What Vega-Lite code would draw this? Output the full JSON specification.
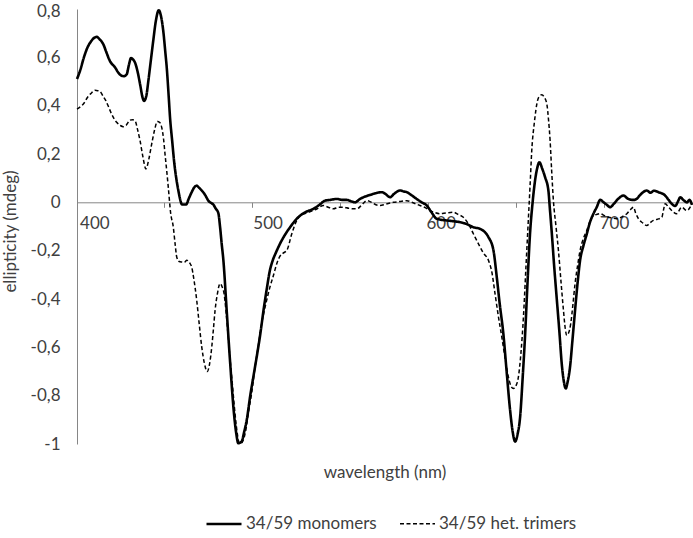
{
"$schema": "https://vega.github.io/schema/vega-lite/v6.json",
"width": 615, "height": 435,
"autosize": {"type": "none"},
"padding": {"left": 77, "top": 9, "right": 1, "bottom": 94},
"background": "white",
"config": {"view": {"stroke": null}, "font": "Lato"},
"data": {"values": [
{"s":"34/59 monomers","wl":390,"v":0.51},{"s":"34/59 monomers","wl":392,"v":0.55},{"s":"34/59 monomers","wl":394,"v":0.6},{"s":"34/59 monomers","wl":396,"v":0.64},{"s":"34/59 monomers","wl":398,"v":0.665},{"s":"34/59 monomers","wl":401.4,"v":0.685},{"s":"34/59 monomers","wl":403,"v":0.675},{"s":"34/59 monomers","wl":405.2,"v":0.654},{"s":"34/59 monomers","wl":407,"v":0.62},{"s":"34/59 monomers","wl":409,"v":0.585},{"s":"34/59 monomers","wl":412,"v":0.558},{"s":"34/59 monomers","wl":414,"v":0.535},{"s":"34/59 monomers","wl":415.8,"v":0.524},{"s":"34/59 monomers","wl":417,"v":0.522},{"s":"34/59 monomers","wl":418.7,"v":0.53},{"s":"34/59 monomers","wl":420,"v":0.57},{"s":"34/59 monomers","wl":421.2,"v":0.597},{"s":"34/59 monomers","wl":422.5,"v":0.59},{"s":"34/59 monomers","wl":423.5,"v":0.578},{"s":"34/59 monomers","wl":425,"v":0.54},{"s":"34/59 monomers","wl":426.4,"v":0.489},{"s":"34/59 monomers","wl":428,"v":0.43},{"s":"34/59 monomers","wl":428.7,"v":0.42},{"s":"34/59 monomers","wl":430,"v":0.44},{"s":"34/59 monomers","wl":431.2,"v":0.503},{"s":"34/59 monomers","wl":432.5,"v":0.58},{"s":"34/59 monomers","wl":434,"v":0.668},{"s":"34/59 monomers","wl":435.5,"v":0.75},{"s":"34/59 monomers","wl":437.2,"v":0.795},{"s":"34/59 monomers","wl":438.5,"v":0.77},{"s":"34/59 monomers","wl":439.8,"v":0.709},{"s":"34/59 monomers","wl":441,"v":0.62},{"s":"34/59 monomers","wl":441.8,"v":0.558},{"s":"34/59 monomers","wl":443,"v":0.43},{"s":"34/59 monomers","wl":443.7,"v":0.351},{"s":"34/59 monomers","wl":445,"v":0.25},{"s":"34/59 monomers","wl":446,"v":0.173},{"s":"34/59 monomers","wl":447.5,"v":0.09},{"s":"34/59 monomers","wl":448.5,"v":0.049},{"s":"34/59 monomers","wl":450,"v":0.0},{"s":"34/59 monomers","wl":450.5,"v":-0.009},{"s":"34/59 monomers","wl":453,"v":-0.009},{"s":"34/59 monomers","wl":454.5,"v":0.015},{"s":"34/59 monomers","wl":456.2,"v":0.042},{"s":"34/59 monomers","wl":457.5,"v":0.06},{"s":"34/59 monomers","wl":459.1,"v":0.069},{"s":"34/59 monomers","wl":460.5,"v":0.06},{"s":"34/59 monomers","wl":462,"v":0.049},{"s":"34/59 monomers","wl":464,"v":0.03},{"s":"34/59 monomers","wl":465.8,"v":0.007},{"s":"34/59 monomers","wl":467.5,"v":-0.003},{"s":"34/59 monomers","wl":468.7,"v":-0.009},{"s":"34/59 monomers","wl":470,"v":-0.025},{"s":"34/59 monomers","wl":471.6,"v":-0.045},{"s":"34/59 monomers","wl":472.6,"v":-0.103},{"s":"34/59 monomers","wl":473.5,"v":-0.17},{"s":"34/59 monomers","wl":474.5,"v":-0.24},{"s":"34/59 monomers","wl":476.4,"v":-0.447},{"s":"34/59 monomers","wl":478.3,"v":-0.653},{"s":"34/59 monomers","wl":480.6,"v":-0.873},{"s":"34/59 monomers","wl":482,"v":-0.96},{"s":"34/59 monomers","wl":483.1,"v":-0.997},{"s":"34/59 monomers","wl":485,"v":-0.99},{"s":"34/59 monomers","wl":486.5,"v":-0.95},{"s":"34/59 monomers","wl":488,"v":-0.9},{"s":"34/59 monomers","wl":490,"v":-0.8},{"s":"34/59 monomers","wl":491.8,"v":-0.722},{"s":"34/59 monomers","wl":495.7,"v":-0.55},{"s":"34/59 monomers","wl":498,"v":-0.43},{"s":"34/59 monomers","wl":499.5,"v":-0.36},{"s":"34/59 monomers","wl":501.4,"v":-0.28},{"s":"34/59 monomers","wl":503,"v":-0.24},{"s":"34/59 monomers","wl":505,"v":-0.205},{"s":"34/59 monomers","wl":507.2,"v":-0.171},{"s":"34/59 monomers","wl":510,"v":-0.135},{"s":"34/59 monomers","wl":513,"v":-0.103},{"s":"34/59 monomers","wl":516,"v":-0.075},{"s":"34/59 monomers","wl":518.8,"v":-0.055},{"s":"34/59 monomers","wl":522,"v":-0.04},{"s":"34/59 monomers","wl":526.4,"v":-0.027},{"s":"34/59 monomers","wl":530,"v":-0.01},{"s":"34/59 monomers","wl":533.2,"v":0.007},{"s":"34/59 monomers","wl":536,"v":0.01},{"s":"34/59 monomers","wl":540,"v":0.014},{"s":"34/59 monomers","wl":543,"v":0.01},{"s":"34/59 monomers","wl":545.7,"v":0.01},{"s":"34/59 monomers","wl":548,"v":0.005},{"s":"34/59 monomers","wl":550.5,"v":0.0},{"s":"34/59 monomers","wl":553,"v":0.012},{"s":"34/59 monomers","wl":555.3,"v":0.021},{"s":"34/59 monomers","wl":558,"v":0.028},{"s":"34/59 monomers","wl":561.1,"v":0.035},{"s":"34/59 monomers","wl":563.5,"v":0.04},{"s":"34/59 monomers","wl":566,"v":0.042},{"s":"34/59 monomers","wl":568,"v":0.035},{"s":"34/59 monomers","wl":570.7,"v":0.021},{"s":"34/59 monomers","wl":573,"v":0.035},{"s":"34/59 monomers","wl":576.5,"v":0.049},{"s":"34/59 monomers","wl":578.5,"v":0.045},{"s":"34/59 monomers","wl":580.4,"v":0.042},{"s":"34/59 monomers","wl":583,"v":0.03},{"s":"34/59 monomers","wl":586.1,"v":0.014},{"s":"34/59 monomers","wl":589,"v":0.0},{"s":"34/59 monomers","wl":591.9,"v":-0.013},{"s":"34/59 monomers","wl":594.5,"v":-0.04},{"s":"34/59 monomers","wl":597.7,"v":-0.068},{"s":"34/59 monomers","wl":603.4,"v":-0.075},{"s":"34/59 monomers","wl":607,"v":-0.078},{"s":"34/59 monomers","wl":611.1,"v":-0.082},{"s":"34/59 monomers","wl":615,"v":-0.09},{"s":"34/59 monomers","wl":618.8,"v":-0.103},{"s":"34/59 monomers","wl":622.7,"v":-0.11},{"s":"34/59 monomers","wl":625,"v":-0.12},{"s":"34/59 monomers","wl":627.5,"v":-0.144},{"s":"34/59 monomers","wl":630.4,"v":-0.199},{"s":"34/59 monomers","wl":632.3,"v":-0.309},{"s":"34/59 monomers","wl":634,"v":-0.42},{"s":"34/59 monomers","wl":636.1,"v":-0.543},{"s":"34/59 monomers","wl":638,"v":-0.7},{"s":"34/59 monomers","wl":640,"v":-0.86},{"s":"34/59 monomers","wl":641.5,"v":-0.95},{"s":"34/59 monomers","wl":642.9,"v":-0.99},{"s":"34/59 monomers","wl":644.3,"v":-0.96},{"s":"34/59 monomers","wl":645.8,"v":-0.887},{"s":"34/59 monomers","wl":647.3,"v":-0.72},{"s":"34/59 monomers","wl":648.7,"v":-0.543},{"s":"34/59 monomers","wl":650,"v":-0.34},{"s":"34/59 monomers","wl":651.5,"v":-0.13},{"s":"34/59 monomers","wl":653,"v":0.0},{"s":"34/59 monomers","wl":654.4,"v":0.09},{"s":"34/59 monomers","wl":655.6,"v":0.14},{"s":"34/59 monomers","wl":656.9,"v":0.166},{"s":"34/59 monomers","wl":658.5,"v":0.14},{"s":"34/59 monomers","wl":660.2,"v":0.104},{"s":"34/59 monomers","wl":662.1,"v":0.049},{"s":"34/59 monomers","wl":663,"v":-0.03},{"s":"34/59 monomers","wl":664.1,"v":-0.13},{"s":"34/59 monomers","wl":665.5,"v":-0.27},{"s":"34/59 monomers","wl":667,"v":-0.405},{"s":"34/59 monomers","wl":668.5,"v":-0.54},{"s":"34/59 monomers","wl":669.8,"v":-0.667},{"s":"34/59 monomers","wl":671,"v":-0.74},{"s":"34/59 monomers","wl":672.1,"v":-0.77},{"s":"34/59 monomers","wl":673.3,"v":-0.74},{"s":"34/59 monomers","wl":674.6,"v":-0.681},{"s":"34/59 monomers","wl":676,"v":-0.57},{"s":"34/59 monomers","wl":677.5,"v":-0.447},{"s":"34/59 monomers","wl":679,"v":-0.33},{"s":"34/59 monomers","wl":680.4,"v":-0.24},{"s":"34/59 monomers","wl":682.3,"v":-0.18},{"s":"34/59 monomers","wl":684.3,"v":-0.13},{"s":"34/59 monomers","wl":686,"v":-0.085},{"s":"34/59 monomers","wl":688.1,"v":-0.047},{"s":"34/59 monomers","wl":690,"v":-0.02},{"s":"34/59 monomers","wl":692,"v":0.01},{"s":"34/59 monomers","wl":694,"v":0.0},{"s":"34/59 monomers","wl":695.8,"v":-0.01},{"s":"34/59 monomers","wl":697.7,"v":-0.02},{"s":"34/59 monomers","wl":700,"v":-0.005},{"s":"34/59 monomers","wl":702.5,"v":0.015},{"s":"34/59 monomers","wl":705.4,"v":0.028},{"s":"34/59 monomers","wl":708,"v":0.015},{"s":"34/59 monomers","wl":711.2,"v":0.01},{"s":"34/59 monomers","wl":713,"v":0.014},{"s":"34/59 monomers","wl":715,"v":0.03},{"s":"34/59 monomers","wl":718.9,"v":0.049},{"s":"34/59 monomers","wl":721,"v":0.04},{"s":"34/59 monomers","wl":723,"v":0.048},{"s":"34/59 monomers","wl":725.7,"v":0.042},{"s":"34/59 monomers","wl":729.5,"v":0.028},{"s":"34/59 monomers","wl":731.5,"v":0.01},{"s":"34/59 monomers","wl":733.3,"v":-0.006},{"s":"34/59 monomers","wl":735.3,"v":-0.015},{"s":"34/59 monomers","wl":737,"v":0.005},{"s":"34/59 monomers","wl":738.2,"v":0.021},{"s":"34/59 monomers","wl":740,"v":0.01},{"s":"34/59 monomers","wl":742.1,"v":0.0},{"s":"34/59 monomers","wl":743.5,"v":0.01},{"s":"34/59 monomers","wl":745,"v":-0.01},
{"s":"34/59 het. trimers","wl":390,"v":0.386},{"s":"34/59 het. trimers","wl":392.7,"v":0.4},{"s":"34/59 het. trimers","wl":394,"v":0.41},{"s":"34/59 het. trimers","wl":396,"v":0.434},{"s":"34/59 het. trimers","wl":398,"v":0.45},{"s":"34/59 het. trimers","wl":400.4,"v":0.464},{"s":"34/59 het. trimers","wl":402,"v":0.462},{"s":"34/59 het. trimers","wl":403.3,"v":0.459},{"s":"34/59 het. trimers","wl":405,"v":0.44},{"s":"34/59 het. trimers","wl":406.7,"v":0.42},{"s":"34/59 het. trimers","wl":408.5,"v":0.39},{"s":"34/59 het. trimers","wl":410,"v":0.365},{"s":"34/59 het. trimers","wl":411.5,"v":0.345},{"s":"34/59 het. trimers","wl":412.9,"v":0.331},{"s":"34/59 het. trimers","wl":415,"v":0.318},{"s":"34/59 het. trimers","wl":416.7,"v":0.313},{"s":"34/59 het. trimers","wl":418.5,"v":0.32},{"s":"34/59 het. trimers","wl":420.6,"v":0.34},{"s":"34/59 het. trimers","wl":422,"v":0.342},{"s":"34/59 het. trimers","wl":423.5,"v":0.338},{"s":"34/59 het. trimers","wl":425,"v":0.3},{"s":"34/59 het. trimers","wl":426.4,"v":0.255},{"s":"34/59 het. trimers","wl":428,"v":0.19},{"s":"34/59 het. trimers","wl":429.8,"v":0.138},{"s":"34/59 het. trimers","wl":431.5,"v":0.18},{"s":"34/59 het. trimers","wl":433.1,"v":0.241},{"s":"34/59 het. trimers","wl":434.8,"v":0.3},{"s":"34/59 het. trimers","wl":436.4,"v":0.335},{"s":"34/59 het. trimers","wl":437.8,"v":0.33},{"s":"34/59 het. trimers","wl":438.9,"v":0.31},{"s":"34/59 het. trimers","wl":440,"v":0.26},{"s":"34/59 het. trimers","wl":440.8,"v":0.2},{"s":"34/59 het. trimers","wl":441.8,"v":0.13},{"s":"34/59 het. trimers","wl":442.7,"v":0.062},{"s":"34/59 het. trimers","wl":444.1,"v":-0.047},{"s":"34/59 het. trimers","wl":445.6,"v":-0.103},{"s":"34/59 het. trimers","wl":446.6,"v":-0.17},{"s":"34/59 het. trimers","wl":447.6,"v":-0.227},{"s":"34/59 het. trimers","wl":449,"v":-0.245},{"s":"34/59 het. trimers","wl":450.5,"v":-0.247},{"s":"34/59 het. trimers","wl":452,"v":-0.248},{"s":"34/59 het. trimers","wl":453.4,"v":-0.24},{"s":"34/59 het. trimers","wl":455,"v":-0.25},{"s":"34/59 het. trimers","wl":456.2,"v":-0.268},{"s":"34/59 het. trimers","wl":457.5,"v":-0.32},{"s":"34/59 het. trimers","wl":459.1,"v":-0.405},{"s":"34/59 het. trimers","wl":460.5,"v":-0.5},{"s":"34/59 het. trimers","wl":462,"v":-0.598},{"s":"34/59 het. trimers","wl":463.5,"v":-0.665},{"s":"34/59 het. trimers","wl":465.2,"v":-0.7},{"s":"34/59 het. trimers","wl":466.5,"v":-0.67},{"s":"34/59 het. trimers","wl":467.8,"v":-0.598},{"s":"34/59 het. trimers","wl":468.8,"v":-0.52},{"s":"34/59 het. trimers","wl":469.7,"v":-0.447},{"s":"34/59 het. trimers","wl":471,"v":-0.38},{"s":"34/59 het. trimers","wl":472.6,"v":-0.336},{"s":"34/59 het. trimers","wl":473.8,"v":-0.35},{"s":"34/59 het. trimers","wl":474.9,"v":-0.378},{"s":"34/59 het. trimers","wl":476,"v":-0.45},{"s":"34/59 het. trimers","wl":476.8,"v":-0.516},{"s":"34/59 het. trimers","wl":478,"v":-0.62},{"s":"34/59 het. trimers","wl":479.3,"v":-0.722},{"s":"34/59 het. trimers","wl":480.5,"v":-0.82},{"s":"34/59 het. trimers","wl":481.8,"v":-0.915},{"s":"34/59 het. trimers","wl":482.8,"v":-0.97},{"s":"34/59 het. trimers","wl":483.7,"v":-0.997},{"s":"34/59 het. trimers","wl":485,"v":-0.995},{"s":"34/59 het. trimers","wl":486,"v":-0.983},{"s":"34/59 het. trimers","wl":487.5,"v":-0.94},{"s":"34/59 het. trimers","wl":488.9,"v":-0.873},{"s":"34/59 het. trimers","wl":491,"v":-0.78},{"s":"34/59 het. trimers","wl":492.8,"v":-0.681},{"s":"34/59 het. trimers","wl":494.7,"v":-0.59},{"s":"34/59 het. trimers","wl":496.6,"v":-0.502},{"s":"34/59 het. trimers","wl":499,"v":-0.42},{"s":"34/59 het. trimers","wl":501.4,"v":-0.35},{"s":"34/59 het. trimers","wl":503.5,"v":-0.3},{"s":"34/59 het. trimers","wl":505.3,"v":-0.254},{"s":"34/59 het. trimers","wl":507,"v":-0.225},{"s":"34/59 het. trimers","wl":509,"v":-0.21},{"s":"34/59 het. trimers","wl":511.1,"v":-0.199},{"s":"34/59 het. trimers","wl":514,"v":-0.13},{"s":"34/59 het. trimers","wl":516.5,"v":-0.08},{"s":"34/59 het. trimers","wl":518.8,"v":-0.055},{"s":"34/59 het. trimers","wl":522,"v":-0.045},{"s":"34/59 het. trimers","wl":526.4,"v":-0.034},{"s":"34/59 het. trimers","wl":529,"v":-0.025},{"s":"34/59 het. trimers","wl":532.2,"v":-0.013},{"s":"34/59 het. trimers","wl":535,"v":-0.02},{"s":"34/59 het. trimers","wl":538,"v":-0.027},{"s":"34/59 het. trimers","wl":541,"v":-0.02},{"s":"34/59 het. trimers","wl":543.8,"v":-0.02},{"s":"34/59 het. trimers","wl":547,"v":-0.025},{"s":"34/59 het. trimers","wl":551.5,"v":-0.027},{"s":"34/59 het. trimers","wl":554.5,"v":-0.01},{"s":"34/59 het. trimers","wl":557.3,"v":0.007},{"s":"34/59 het. trimers","wl":560,"v":0.0},{"s":"34/59 het. trimers","wl":562.5,"v":-0.01},{"s":"34/59 het. trimers","wl":565,"v":-0.013},{"s":"34/59 het. trimers","wl":568,"v":-0.008},{"s":"34/59 het. trimers","wl":572.6,"v":0.0},{"s":"34/59 het. trimers","wl":576,"v":0.003},{"s":"34/59 het. trimers","wl":580.4,"v":0.007},{"s":"34/59 het. trimers","wl":584,"v":-0.002},{"s":"34/59 het. trimers","wl":588,"v":-0.013},{"s":"34/59 het. trimers","wl":591,"v":-0.022},{"s":"34/59 het. trimers","wl":593.8,"v":-0.034},{"s":"34/59 het. trimers","wl":596.5,"v":-0.042},{"s":"34/59 het. trimers","wl":599.6,"v":-0.047},{"s":"34/59 het. trimers","wl":603,"v":-0.044},{"s":"34/59 het. trimers","wl":607.3,"v":-0.041},{"s":"34/59 het. trimers","wl":610,"v":-0.05},{"s":"34/59 het. trimers","wl":613,"v":-0.062},{"s":"34/59 het. trimers","wl":616,"v":-0.09},{"s":"34/59 het. trimers","wl":618.8,"v":-0.13},{"s":"34/59 het. trimers","wl":622.7,"v":-0.185},{"s":"34/59 het. trimers","wl":624.6,"v":-0.21},{"s":"34/59 het. trimers","wl":627.5,"v":-0.24},{"s":"34/59 het. trimers","wl":629.5,"v":-0.29},{"s":"34/59 het. trimers","wl":631.3,"v":-0.378},{"s":"34/59 het. trimers","wl":633.2,"v":-0.47},{"s":"34/59 het. trimers","wl":635.2,"v":-0.557},{"s":"34/59 het. trimers","wl":637,"v":-0.64},{"s":"34/59 het. trimers","wl":639,"v":-0.722},{"s":"34/59 het. trimers","wl":640.5,"v":-0.76},{"s":"34/59 het. trimers","wl":641.9,"v":-0.77},{"s":"34/59 het. trimers","wl":643.3,"v":-0.76},{"s":"34/59 het. trimers","wl":644.8,"v":-0.722},{"s":"34/59 het. trimers","wl":646.3,"v":-0.62},{"s":"34/59 het. trimers","wl":647.7,"v":-0.474},{"s":"34/59 het. trimers","wl":649.2,"v":-0.26},{"s":"34/59 het. trimers","wl":650.6,"v":-0.062},{"s":"34/59 het. trimers","wl":651.6,"v":0.08},{"s":"34/59 het. trimers","wl":652.5,"v":0.214},{"s":"34/59 het. trimers","wl":654,"v":0.33},{"s":"34/59 het. trimers","wl":655.8,"v":0.42},{"s":"34/59 het. trimers","wl":657,"v":0.44},{"s":"34/59 het. trimers","wl":658.3,"v":0.445},{"s":"34/59 het. trimers","wl":659.7,"v":0.435},{"s":"34/59 het. trimers","wl":661.2,"v":0.407},{"s":"34/59 het. trimers","wl":662.2,"v":0.34},{"s":"34/59 het. trimers","wl":663.1,"v":0.255},{"s":"34/59 het. trimers","wl":664,"v":0.13},{"s":"34/59 het. trimers","wl":665,"v":0.007},{"s":"34/59 het. trimers","wl":666.5,"v":-0.1},{"s":"34/59 het. trimers","wl":667.9,"v":-0.199},{"s":"34/59 het. trimers","wl":669.4,"v":-0.33},{"s":"34/59 het. trimers","wl":670.8,"v":-0.447},{"s":"34/59 het. trimers","wl":671.8,"v":-0.52},{"s":"34/59 het. trimers","wl":672.7,"v":-0.55},{"s":"34/59 het. trimers","wl":673.8,"v":-0.54},{"s":"34/59 het. trimers","wl":675,"v":-0.502},{"s":"34/59 het. trimers","wl":676.3,"v":-0.42},{"s":"34/59 het. trimers","wl":677.5,"v":-0.336},{"s":"34/59 het. trimers","wl":679,"v":-0.26},{"s":"34/59 het. trimers","wl":680.4,"v":-0.199},{"s":"34/59 het. trimers","wl":682.3,"v":-0.15},{"s":"34/59 het. trimers","wl":684.3,"v":-0.116},{"s":"34/59 het. trimers","wl":686,"v":-0.08},{"s":"34/59 het. trimers","wl":688.1,"v":-0.055},{"s":"34/59 het. trimers","wl":690,"v":-0.05},{"s":"34/59 het. trimers","wl":692,"v":-0.047},{"s":"34/59 het. trimers","wl":694.5,"v":-0.055},{"s":"34/59 het. trimers","wl":696.8,"v":-0.062},{"s":"34/59 het. trimers","wl":699,"v":-0.065},{"s":"34/59 het. trimers","wl":701.6,"v":-0.068},{"s":"34/59 het. trimers","wl":704.5,"v":-0.06},{"s":"34/59 het. trimers","wl":707.4,"v":-0.047},{"s":"34/59 het. trimers","wl":709.5,"v":-0.03},{"s":"34/59 het. trimers","wl":711.2,"v":-0.02},{"s":"34/59 het. trimers","wl":712.5,"v":-0.045},{"s":"34/59 het. trimers","wl":714.1,"v":-0.068},{"s":"34/59 het. trimers","wl":716.5,"v":-0.085},{"s":"34/59 het. trimers","wl":718.9,"v":-0.096},{"s":"34/59 het. trimers","wl":720.8,"v":-0.085},{"s":"34/59 het. trimers","wl":722.7,"v":-0.075},{"s":"34/59 het. trimers","wl":725,"v":-0.07},{"s":"34/59 het. trimers","wl":727.6,"v":-0.062},{"s":"34/59 het. trimers","wl":728.6,"v":-0.03},{"s":"34/59 het. trimers","wl":729.5,"v":-0.006},{"s":"34/59 het. trimers","wl":731.5,"v":-0.02},{"s":"34/59 het. trimers","wl":733.3,"v":-0.034},{"s":"34/59 het. trimers","wl":736.2,"v":-0.047},{"s":"34/59 het. trimers","wl":739,"v":-0.02},{"s":"34/59 het. trimers","wl":742,"v":-0.034},{"s":"34/59 het. trimers","wl":745,"v":-0.006}
]},
"mark": {"type": "line", "interpolate": "monotone", "color": "black"},
"encoding": {
"x": {"field": "wl", "type": "quantitative",
 "scale": {"domain": [390, 745], "nice": false, "zero": false},
 "axis": {"values": [400, 440.2, 491, 500, 541.8, 592.7, 600, 643.5, 694.3, 700],
  "offset": -241.7, "domainColor": "#868686", "domainWidth": 1,
  "tickColor": {"condition": {"test": "datum.value % 100 === 0", "value": "transparent"}, "value": "#868686"},
  "tickSize": 5, "labelExpr": "datum.value % 100 === 0 ? datum.label : ''",
  "labelOverlap": false, "labelFlush": false, "labelFont": "Lato", "labelFontSize": 17, "labelColor": "#404040", "labelPadding": 8,
  "grid": false, "title": "wavelength (nm)", "titleFont": "Lato", "titleFontSize": 17, "titleFontWeight": "normal", "titleColor": "#404040",
  "titleY": 270, "titleBaseline": "middle"}},
"y": {"field": "v", "type": "quantitative",
 "scale": {"domain": [-1, 0.8], "nice": false, "zero": false},
 "axis": {"values": [-1, -0.8, -0.6, -0.4, -0.2, 0, 0.2, 0.4, 0.6, 0.8],
  "labelExpr": "datum.value == 0 ? '0' : ((datum.value < 0 ? '-' : '') + replace(format(abs(datum.value), abs(datum.value) >= 1 ? 'd' : '.1f'), '.', ','))",
  "labelOffset": {"condition": {"test": "datum.value > 0.7", "value": 2}, "value": 0},
  "ticks": false, "domainColor": "#868686", "labelPadding": 17, "grid": false,
  "labelFont": "Lato", "labelFontSize": 17, "labelColor": "#404040",
  "title": "ellipticity (mdeg)", "titleFont": "Lato", "titleFontSize": 17, "titleFontWeight": "normal", "titleColor": "#404040",
  "titleX": -67, "titleY": 222, "titleAngle": -90, "titleBaseline": "middle", "titleAlign": "center"}},
"strokeWidth": {"field": "s", "type": "ordinal", "scale": {"domain": ["34/59 monomers", "34/59 het. trimers"], "range": [2.6, 1.5]}, "legend": null},
"strokeDash": {"field": "s", "type": "nominal",
 "scale": {"domain": ["34/59 monomers", "34/59 het. trimers"], "range": [[1, 0], [4, 2.5]]},
 "legend": {"orient": "none", "legendX": 128, "legendY": 496, "direction": "horizontal", "title": null,
  "symbolType": "stroke", "symbolSize": 1225, "symbolStrokeColor": "black", "symbolStrokeWidth": 2.5,
  "labelFont": "Lato", "labelFontSize": 17, "labelColor": "#404040", "labelOffset": 3, "columnPadding": 20, "padding": 0,
  "encode": {"symbols": {"update": {"strokeWidth": {"signal": "datum.value === '34/59 het. trimers' ? 1.5 : 2.5"}}}}}}
}
}
